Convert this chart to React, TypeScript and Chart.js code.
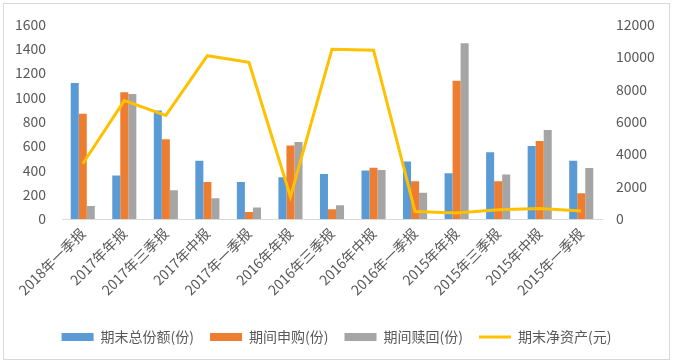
import React, { useEffect, useRef } from "react";
import { Chart, registerables } from "chart.js";

Chart.register(...registerables);

const categories = [
  "2018年一季报", "2017年年报", "2017年三季报", "2017年中报", "2017年一季报",
  "2016年年报", "2016年三季报", "2016年中报", "2016年一季报", "2015年年报",
  "2015年三季报", "2015年中报", "2015年一季报",
];
const totalShares = [1118, 357, 893, 479, 305, 344, 370, 398, 473, 376, 549, 601, 479];
const subscriptions = [866, 1042, 655, 305, 57, 604, 81, 422, 311, 1137, 311, 641, 211];
const redemptions = [106, 1028, 236, 171, 94, 634, 114, 403, 216, 1445, 365, 731, 419];
const netAssets = [3410, 7300, 6390, 10070, 9660, 1380, 10470, 10410, 460, 370, 570, 650, 490];

const leftTicks = [0, 200, 400, 600, 800, 1000, 1200, 1400, 1600];
const rightTicks = [0, 2000, 4000, 6000, 8000, 10000, 12000];

const FONT = "'Noto Sans CJK SC', 'Noto Sans', sans-serif";
const TEXT = "#595959";

export default function App() {
  const ref = useRef<HTMLCanvasElement | null>(null);

  useEffect(() => {
    document.body.style.margin = "0";
    const ctx = ref.current!;
    const chart = new Chart(ctx, {
      type: "bar",
      data: {
        labels: categories,
        datasets: [
          {
            type: "bar",
            label: "期末总份额(份)",
            data: totalShares,
            backgroundColor: "#5B9BD5",
            yAxisID: "y",
            order: 1,
            pointStyle: "rect",
            barPercentage: 1,
            categoryPercentage: 0.58,
          },
          {
            type: "bar",
            label: "期间申购(份)",
            data: subscriptions,
            backgroundColor: "#ED7D31",
            yAxisID: "y",
            order: 1,
            pointStyle: "rect",
            barPercentage: 1,
            categoryPercentage: 0.58,
          },
          {
            type: "bar",
            label: "期间赎回(份)",
            data: redemptions,
            backgroundColor: "#A5A5A5",
            yAxisID: "y",
            order: 1,
            pointStyle: "rect",
            barPercentage: 1,
            categoryPercentage: 0.58,
          },
          {
            type: "line",
            label: "期末净资产(元)",
            data: netAssets,
            borderColor: "#FFC000",
            backgroundColor: "#FFC000",
            borderWidth: 3,
            pointRadius: 0,
            pointStyle: "line",
            tension: 0,
            yAxisID: "y1",
            order: 0,
          } as any,
        ],
      },
      options: {
        animation: false,
        responsive: false,
        maintainAspectRatio: false,
        layout: { padding: { top: 22, left: 0, right: 0, bottom: 10 } },
        plugins: {
          tooltip: { enabled: false },
          legend: {
            position: "bottom",
            labels: {
              usePointStyle: true,
              pointStyleWidth: 32,
              boxWidth: 32,
              boxHeight: 8,
              padding: 16,
              color: TEXT,
              font: { family: FONT, size: 14 },
              sort: (a: any, b: any) => a.datasetIndex - b.datasetIndex,
            },
          },
        },
        scales: {
          x: {
            grid: { display: false, drawTicks: false },
            border: { display: true, color: "#D9D9D9", width: 1 },
            ticks: {
              color: TEXT,
              font: { family: FONT, size: 14 },
              maxRotation: 45,
              minRotation: 45,
              autoSkip: false,
              padding: 6,
            },
            afterFit: (s: any) => {
              s.height = 95;
            },
          },
          y: {
            position: "left",
            min: 0,
            max: 1600,
            grid: { display: false, drawTicks: false },
            border: { display: false },
            afterBuildTicks: (s: any) => {
              s.ticks = leftTicks.map((v) => ({ value: v }));
            },
            ticks: {
              color: TEXT,
              font: { family: FONT, size: 14 },
              padding: 16,
              callback: (v: any) => String(v),
            },
            afterFit: (s: any) => {
              s.width = 62;
            },
          },
          y1: {
            position: "right",
            min: 0,
            max: 12000,
            grid: { display: false, drawTicks: false },
            border: { display: false },
            afterBuildTicks: (s: any) => {
              s.ticks = rightTicks.map((v) => ({ value: v }));
            },
            ticks: {
              color: TEXT,
              font: { family: FONT, size: 14 },
              padding: 14,
              callback: (v: any) => String(v),
            },
            afterFit: (s: any) => {
              s.width = 71;
            },
          },
        },
      },
    });
    return () => chart.destroy();
  }, []);

  return (
    <div style={{ position: "relative", width: 673, height: 364, background: "#fff" }}>
      <canvas ref={ref} width={673} height={364} style={{ display: "block" }} />
      <div
        style={{
          position: "absolute",
          left: 3,
          top: 3,
          width: 665,
          height: 355,
          border: "1px solid #D9D9D9",
          pointerEvents: "none",
        }}
      />
    </div>
  );
}
